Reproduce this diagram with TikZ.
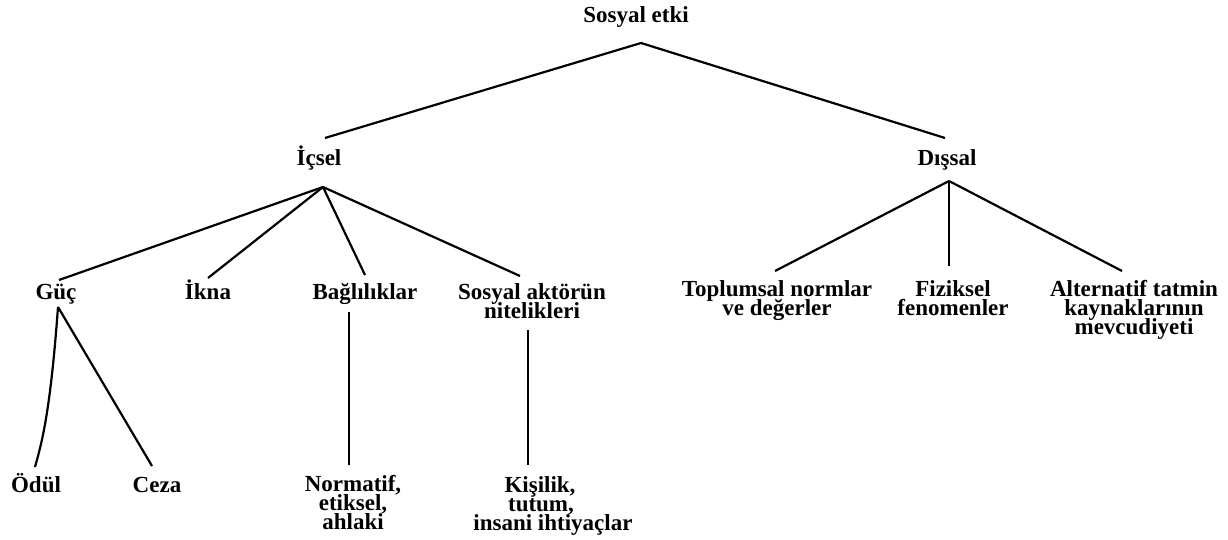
\documentclass[tikz,border=0pt]{standalone}
\usepackage{fontspec}
\setmainfont{Liberation Serif}
% centred stack of lines whose baseline is that of the first line
\newcommand\stackl[1]{\vtop{\baselineskip=19pt\lineskiplimit=-\maxdimen
  \halign{\hfil##\hfil\cr #1\crcr}}}
\begin{document}
\begin{tikzpicture}[x=1pt,y=-1pt,
  lbl/.style={anchor=base,inner sep=0pt,font=\fontsize{23pt}{19pt}\selectfont\bfseries},
  edge/.style={line width=2.2pt}]
\useasboundingbox (0,0) rectangle (1228,540);

% labels
\node[lbl] (root) at (636,23) {Sosyal etki};
\node[lbl] (icsel) at (319,166) {İçsel};
\node[lbl] (dissal) at (947,166) {Dışsal};

\node[lbl] (guc) at (56,299) {Güç};
\node[lbl] (ikna) at (208,299) {İkna};
\node[lbl] (bag) at (365,299) {Bağlılıklar};
\node[lbl] (aktor) at (532,299) {\stackl{Sosyal aktörün\cr nitelikleri}};

\node[lbl] (toplum) at (777,296) {\stackl{Toplumsal normlar\cr ve değerler}};
\node[lbl] (fizik) at (953,296) {\stackl{Fiziksel\cr fenomenler}};
\node[lbl] (alter) at (1134,296) {\stackl{Alternatif tatmin\cr kaynaklarının\cr mevcudiyeti}};

\node[lbl] (odul) at (36,492) {Ödül};
\node[lbl] (ceza) at (157,492) {Ceza};
\node[lbl] (norm) at (353,491) {\stackl{Normatif,\cr etiksel,\cr ahlaki}};
\node[lbl] (kisi) at (553,492) {\stackl{Kişilik,\kern26pt\cr tutum,\kern24pt\cr insani ihtiyaçlar}};

% connectors
\draw[edge] ([shift={(6,-28)}]icsel.base) -- ([shift={(5,20)}]root.base) -- ([shift={(-2,-28)}]dissal.base);

\draw[edge] ([shift={(4,21)}]icsel.base) -- ([shift={(3,-19)}]guc.base);
\draw[edge] ([shift={(4,21)}]icsel.base) -- ([shift={(0,-21)}]ikna.base);
\draw[edge] ([shift={(4,21)}]icsel.base) -- ([shift={(0,-24)}]bag.base);
\draw[edge] ([shift={(4,21)}]icsel.base) -- ([shift={(-12,-23)}]aktor.base);

\draw[edge] ([shift={(2,15)}]dissal.base) -- ([shift={(-2,-25)}]toplum.base);
\draw[edge] ([shift={(2,15)}]dissal.base) -- ([shift={(-4,-30)}]fizik.base);
\draw[edge] ([shift={(2,15)}]dissal.base) -- ([shift={(-12,-25)}]alter.base);

\draw[edge] ([shift={(2,8)}]guc.base) .. controls +(-8,110) and +(6,-22) .. ([shift={(-1,-25)}]odul.base);
\draw[edge] ([shift={(2,8)}]guc.base) -- ([shift={(-5,-26)}]ceza.base);

\draw[edge] ([shift={(-16,13)}]bag.base) -- ([shift={(-4,-26)}]norm.base);
\draw[edge] ([shift={(-4,31)}]aktor.base) -- ([shift={(-25,-27)}]kisi.base);
\end{tikzpicture}
\end{document}
